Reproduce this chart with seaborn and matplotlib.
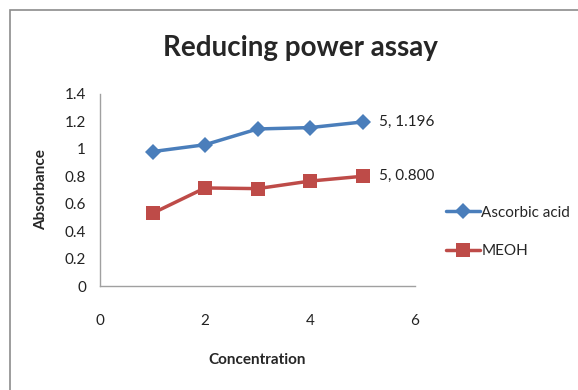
import matplotlib
matplotlib.use("Agg")
import matplotlib.pyplot as plt
import seaborn as sns
import pandas as pd
from matplotlib.patches import Rectangle

concentration = [1, 2, 3, 4, 5]
ascorbic = [0.98, 1.03, 1.145, 1.155, 1.196]
meoh = [0.53, 0.715, 0.71, 0.765, 0.800]
series_names = ["Ascorbic acid", "MEOH"]
yticks = [0, 0.2, 0.4, 0.6, 0.8, 1, 1.2, 1.4]
ytick_labels = ["0", "0.2", "0.4", "0.6", "0.8", "1", "1.2", "1.4"]
xticks = [0, 2, 4, 6]

df = pd.DataFrame({
    "Concentration": concentration * 2,
    "Absorbance": ascorbic + meoh,
    "Series": [series_names[0]] * 5 + [series_names[1]] * 5,
})

sns.set_theme(style="white")
plt.rcParams["font.family"] = ["Lato", "DejaVu Sans"]

fig = plt.figure(figsize=(5.78, 3.90), dpi=100)
fig.patches.append(Rectangle((10/578, -0.1), 1.2, 1 - 10/390 + 0.1, transform=fig.transFigure,
                             fill=False, edgecolor="#8c8c8c", linewidth=1.2))
ax = fig.add_axes([100/578, 1 - 286/390, 315/578, 192/390])

palette = {"Ascorbic acid": "#4A7EBB", "MEOH": "#BE4B48"}
sns.lineplot(data=df, x="Concentration", y="Absorbance", hue="Series", style="Series",
             markers={"Ascorbic acid": "D", "MEOH": "s"}, dashes=False, palette=palette,
             linewidth=2.5, markersize=9, markeredgewidth=0, ax=ax, legend=True)
for line in ax.lines:
    if line.get_marker() == "D":
        line.set_markersize(8)
    elif line.get_marker() == "s":
        line.set_markersize(10)

ax.set_xlim(0, 6)
ax.set_ylim(0, 1.4)
ax.set_yticks(yticks)
ax.set_yticklabels(ytick_labels)
ax.set_xticks(xticks)
ax.tick_params(axis="both", labelsize=11, colors="#222222", length=0)
ax.tick_params(axis="y", pad=10)
ax.tick_params(axis="x", pad=20)
for s in ["top", "right"]:
    ax.spines[s].set_visible(False)
for s in ["left", "bottom"]:
    ax.spines[s].set_color("#a0a0a0")
    ax.spines[s].set_linewidth(1)

ax.set_xlabel("Concentration", fontsize=11, fontweight="bold", labelpad=18)
ax.set_ylabel("Absorbance", fontsize=11, fontweight="bold", labelpad=12)
fig.text(300/578, 1 - 48/390, "Reducing power assay", fontsize=20, fontweight="bold",
         ha="center", va="center")

ax.annotate(f"{concentration[-1]}, {ascorbic[-1]:.3f}", (concentration[-1], ascorbic[-1]),
            xytext=(12, 0), textcoords="offset points", va="center", fontsize=11, color="#222222",
            annotation_clip=False)
ax.annotate(f"{concentration[-1]}, {meoh[-1]:.3f}", (concentration[-1], meoh[-1]),
            xytext=(12, 0), textcoords="offset points", va="center", fontsize=11, color="#222222",
            annotation_clip=False)

leg = ax.legend(loc="center left", bbox_to_anchor=(440/578, 1 - 232/390),
                bbox_transform=fig.transFigure, frameon=False, fontsize=11,
                labelspacing=1.6, handlelength=2.2, handletextpad=0.1, borderaxespad=0)
for h in leg.legend_handles:
    h.set_linewidth(2.5)

fig.savefig("out.png", dpi=100)
